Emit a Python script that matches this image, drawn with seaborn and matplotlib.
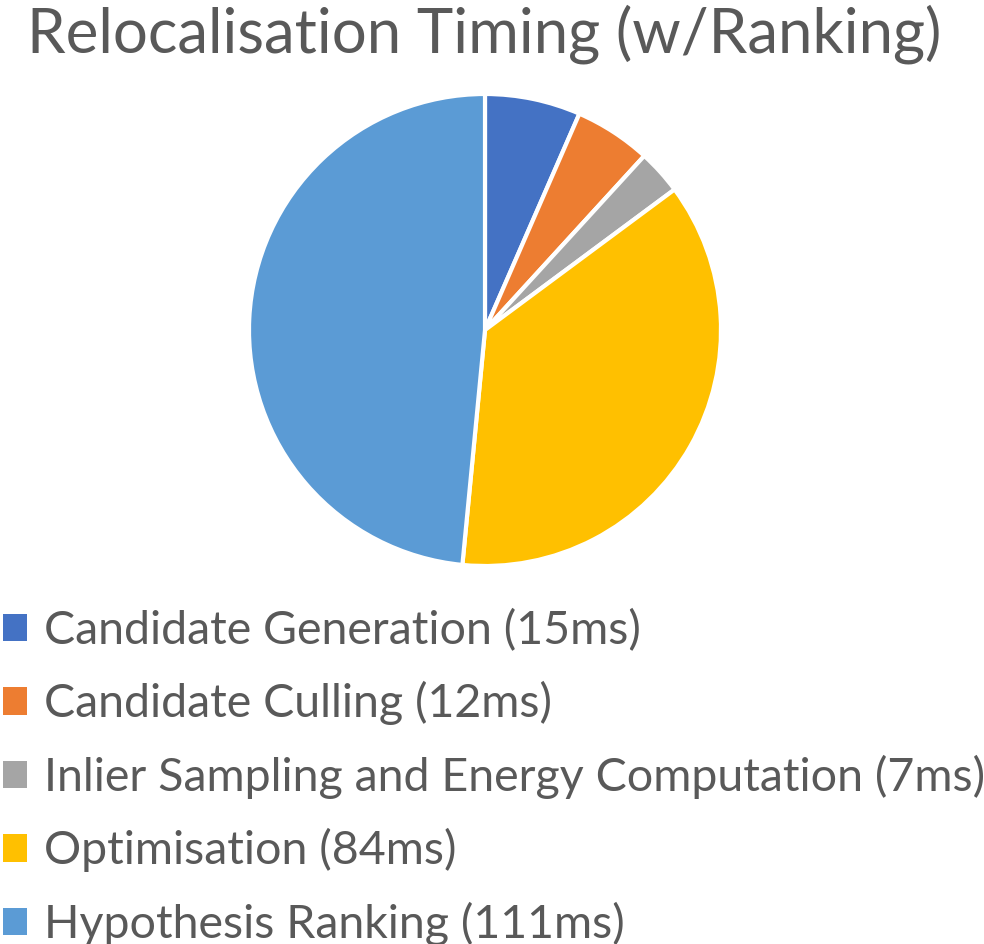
import matplotlib
matplotlib.use("Agg")
import matplotlib.pyplot as plt
import seaborn as sns

# data
stages = ["Candidate Generation", "Candidate Culling",
          "Inlier Sampling and Energy Computation", "Optimisation",
          "Hypothesis Ranking"]
times_ms = [15, 12, 7, 84, 111]
colors = ["#4472C4", "#ED7D31", "#A5A5A5", "#FFC000", "#5B9BD5"]

sns.set_theme(style="white")
plt.rcParams['font.family'] = ['Lato', 'DejaVu Sans']
text_col = "#595959"

fig = plt.figure(figsize=(9.84, 9.44), dpi=100)
ax = fig.add_axes([249/984, 378/944, 472/984, 472/944])
wedges, _ = ax.pie(times_ms, colors=colors, startangle=90, counterclock=False,
                   wedgeprops=dict(edgecolor="white", linewidth=3))
ax.set_xlim(-1, 1)
ax.set_ylim(-1, 1)
ax.set_aspect("equal")

fig.text(484/984, 1 - 34/944, "Relocalisation Timing (w/Ranking)",
         ha="center", va="center", fontsize=44.5, color=text_col)

labels = ["{} ({}ms)".format(s, t) for s, t in zip(stages, times_ms)]
leg = fig.legend(wedges, labels, loc="upper left",
                 bbox_to_anchor=(3/984, 1 - 609/944), frameon=False,
                 fontsize=33.5, labelspacing=0.63, handlelength=0.52,
                 handleheight=0.52, handletextpad=0.37, borderpad=0,
                 borderaxespad=0)
for t in leg.get_texts():
    t.set_color(text_col)
for h in leg.legend_handles:
    h.set_edgecolor("none")

fig.savefig("out.png", dpi=100)
